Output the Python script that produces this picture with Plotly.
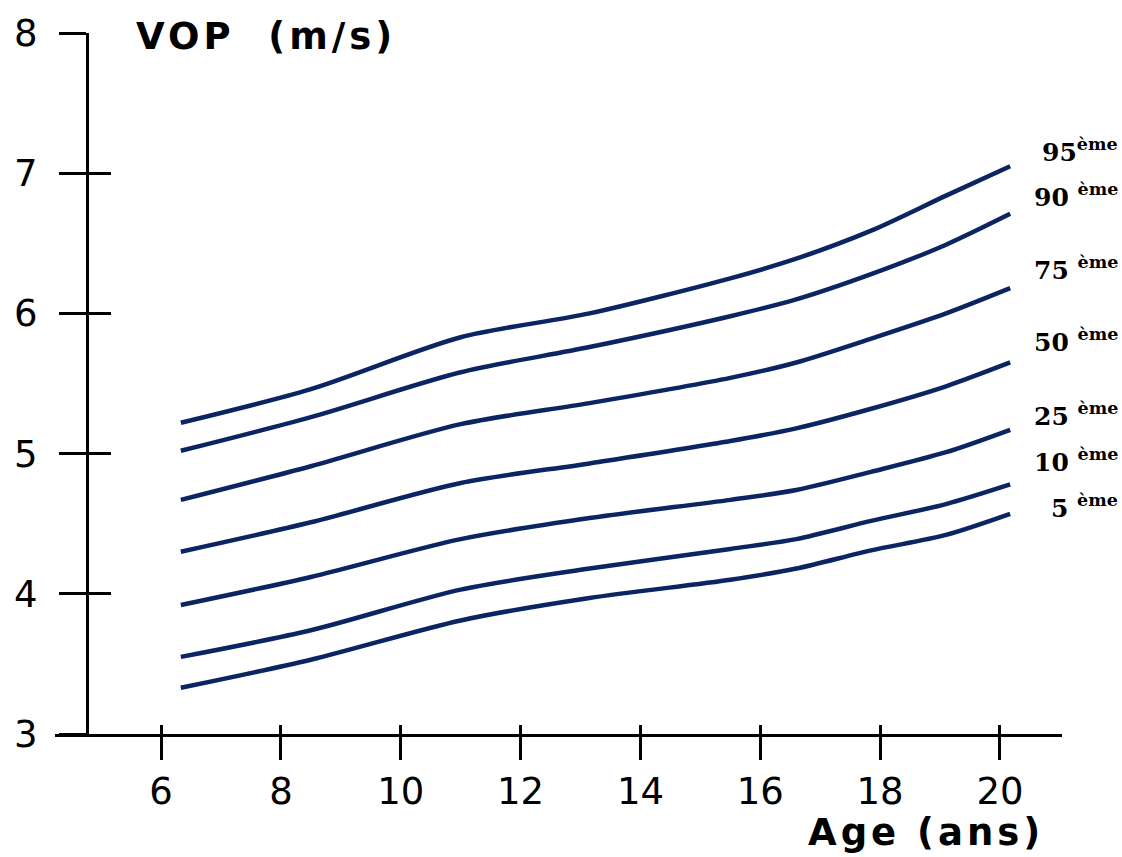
import plotly.graph_objects as go

# Age (years) at which the percentile curves were sampled
age = [6.33, 8.5, 11.0, 13.15, 15.5, 16.6, 17.85, 19.1, 20.17]

# Pulse wave velocity percentiles (m/s)
p95 = [5.22, 5.46, 5.83, 6.00, 6.25, 6.39, 6.59, 6.84, 7.05]
p90 = [5.02, 5.26, 5.58, 5.76, 5.98, 6.10, 6.28, 6.49, 6.71]
p75 = [4.67, 4.91, 5.21, 5.36, 5.54, 5.65, 5.82, 6.00, 6.18]
p50 = [4.30, 4.51, 4.79, 4.93, 5.09, 5.18, 5.32, 5.48, 5.65]
p25 = [3.92, 4.12, 4.39, 4.54, 4.67, 4.74, 4.87, 5.01, 5.17]
p10 = [3.55, 3.74, 4.03, 4.18, 4.32, 4.39, 4.52, 4.64, 4.78]
p5 = [3.33, 3.53, 3.81, 3.97, 4.10, 4.18, 4.31, 4.42, 4.57]

curves = [p95, p90, p75, p50, p25, p10, p5]
curve_labels = ["95<sup>ème</sup>", "90 <sup>ème</sup>", "75 <sup>ème</sup>",
                "50 <sup>ème</sup>", "25 <sup>ème</sup>", "10 <sup>ème</sup>",
                "5 <sup>ème</sup>"]
label_y = [7.16, 6.84, 6.32, 5.81, 5.28, 4.95, 4.62]

x_ticks = [6, 8, 10, 12, 14, 16, 18, 20]
y_ticks = [3, 4, 5, 6, 7, 8]

X_RANGE = [4.23, 21.035]
Y_RANGE = [3, 8]
Y_AXIS_POS = 0.0318
LINE_COLOR = "#0b2563"
AXIS_W = 3

fig = go.Figure()

for vals in curves:
    fig.add_trace(go.Scatter(
        x=age, y=vals, mode="lines",
        line=dict(color=LINE_COLOR, width=4.5, shape="spline", smoothing=0.8),
        showlegend=False, hoverinfo="skip",
    ))

# empty trace so the overlay axes (inner half of the crossing ticks) are drawn
fig.add_trace(go.Scatter(x=[], y=[], xaxis="x2", yaxis="y2", showlegend=False))

tick_font = dict(family="DejaVu Sans", size=37, color="black")

fig.update_layout(
    width=1122, height=857,
    margin=dict(l=55, r=60, t=29, b=123),
    paper_bgcolor="white", plot_bgcolor="white",
    xaxis=dict(
        range=X_RANGE, tickvals=x_ticks, ticks="outside", ticklen=23,
        tickwidth=AXIS_W, tickcolor="black", showline=True, linecolor="black",
        linewidth=AXIS_W, showgrid=False, zeroline=False, tickfont=tick_font,
        ticklabelstandoff=0,
    ),
    yaxis=dict(
        range=Y_RANGE, tickvals=y_ticks, ticks="outside", ticklen=27,
        tickwidth=AXIS_W, tickcolor="black", showline=True, linecolor="black",
        linewidth=AXIS_W, showgrid=False, zeroline=False, tickfont=tick_font,
        anchor="free", position=Y_AXIS_POS, ticklabelstandoff=14,
    ),
    xaxis2=dict(
        range=X_RANGE, tickvals=x_ticks, ticks="inside", ticklen=9,
        tickwidth=AXIS_W, tickcolor="black", showticklabels=False,
        showline=False, showgrid=False, zeroline=False,
        overlaying="x", anchor="y2", side="bottom",
    ),
    yaxis2=dict(
        range=Y_RANGE, tickvals=y_ticks, ticks="inside", ticklen=23,
        tickwidth=AXIS_W, tickcolor="black", showticklabels=False,
        showline=False, showgrid=False, zeroline=False,
        overlaying="y", anchor="free", position=Y_AXIS_POS, side="left",
    ),
)

title_font = dict(family="DejaVu Sans", size=37, color="black", weight="bold")

fig.add_annotation(
    text='<span style="letter-spacing:4px">VOP&nbsp;&nbsp;(m/s)</span>',
    xref="paper", yref="paper", x=(134 - 55) / 1007, y=0.995,
    xanchor="left", yanchor="middle", showarrow=False, font=title_font,
)
fig.add_annotation(
    text='<span style="letter-spacing:4px">Age (ans)</span>',
    xref="paper", yref="paper", x=(1046 - 55) / 1007, y=-0.140,
    xanchor="right", yanchor="middle", showarrow=False, font=title_font,
)

for txt, yv in zip(curve_labels, label_y):
    fig.add_annotation(
        text=txt, xref="paper", yref="y", x=(1120 - 55) / 1007, y=yv,
        xanchor="right", yanchor="middle", showarrow=False,
        font=dict(family="DejaVu Serif", size=25, color="black", weight="bold"),
    )

fig.write_html("out.html")
